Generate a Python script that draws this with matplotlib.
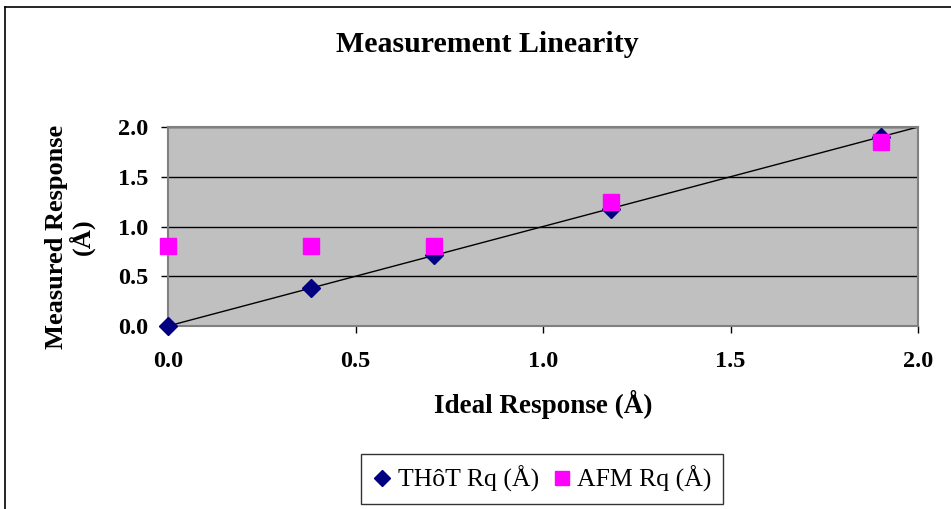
import matplotlib.pyplot as plt
from matplotlib.lines import Line2D

plt.rcParams['font.family'] = ['Liberation Serif', 'DejaVu Serif']

# ideal vs measured roughness (Angstrom)
ideal = [0.0, 0.38, 0.71, 1.18, 1.90]
thot_rq = [0.0, 0.38, 0.71, 1.18, 1.90]
afm_rq = [0.80, 0.80, 0.80, 1.25, 1.85]
ticks = [0.0, 0.5, 1.0, 1.5, 2.0]

fig = plt.figure(figsize=(9.51, 5.09), dpi=100)
ax = fig.add_axes([0.1767, 0.3595, 0.7886, 0.391])

# outer chart frame (top and left edges only show)
fig.add_artist(Line2D([5 / 951, 1], [1 - 7 / 509, 1 - 7 / 509], color='black', lw=1.2))
fig.add_artist(Line2D([5 / 951, 5 / 951], [0, 1 - 7 / 509], color='black', lw=1.2))

ax.set_facecolor('#C0C0C0')
for side in ['left', 'bottom', 'top', 'right']:
    ax.spines[side].set_color('#808080')
    ax.spines[side].set_linewidth(1.5)

ax.set_xlim(0, 2)
ax.set_ylim(0, 2)
ax.set_xticks(ticks)
ax.set_yticks(ticks)
ax.set_xticklabels([f'{t:.1f}' for t in ticks], fontsize=17.5, fontweight='bold')
ax.set_yticklabels([f'{t:.1f}' for t in ticks], fontsize=17.5, fontweight='bold')
ax.tick_params(axis='both', direction='out', length=5, width=1, color='black')
ax.tick_params(axis='x', pad=13)
ax.tick_params(axis='y', pad=9)
ax.yaxis.grid(True, color='black', lw=1)
ax.set_axisbelow(True)

ax.plot([0, 2], [0, 2], color='black', lw=1, zorder=2)
ax.plot(ideal, thot_rq, 'D', color='#000080', ms=9.5, ls='none',
        clip_on=False, zorder=3, label='THôT Rq (Å)')
ax.plot(ideal, afm_rq, 's', color='#FF00FF', ms=11.5, ls='none',
        clip_on=False, zorder=4, label='AFM Rq (Å)')

fig.text(487 / 951, 1 - 45 / 509, 'Measurement Linearity', fontsize=21.5,
         fontweight='bold', ha='center', va='center')

fig.text(543 / 951, 1 - 404 / 509, 'Ideal Response (Å)', fontsize=19.5,
         fontweight='bold', ha='center', va='center')
fig.text(70 / 951, 1 - 237 / 509, 'Measured Response\n(Å)', fontsize=19,
         fontweight='bold', rotation=90, ha='center', va='center',
         multialignment='center', linespacing=1.05)

leg = fig.legend(loc='center', bbox_to_anchor=(542 / 951, 1 - 479 / 509),
                 ncol=2, frameon=True, fancybox=False, fontsize=18.5,
                 handletextpad=0.2, columnspacing=0.5, borderpad=0.45,
                 handlelength=0.8, markerscale=0.85)
leg.get_frame().set_edgecolor('black')
leg.get_frame().set_linewidth(1)

fig.savefig('out.png', dpi=100)
